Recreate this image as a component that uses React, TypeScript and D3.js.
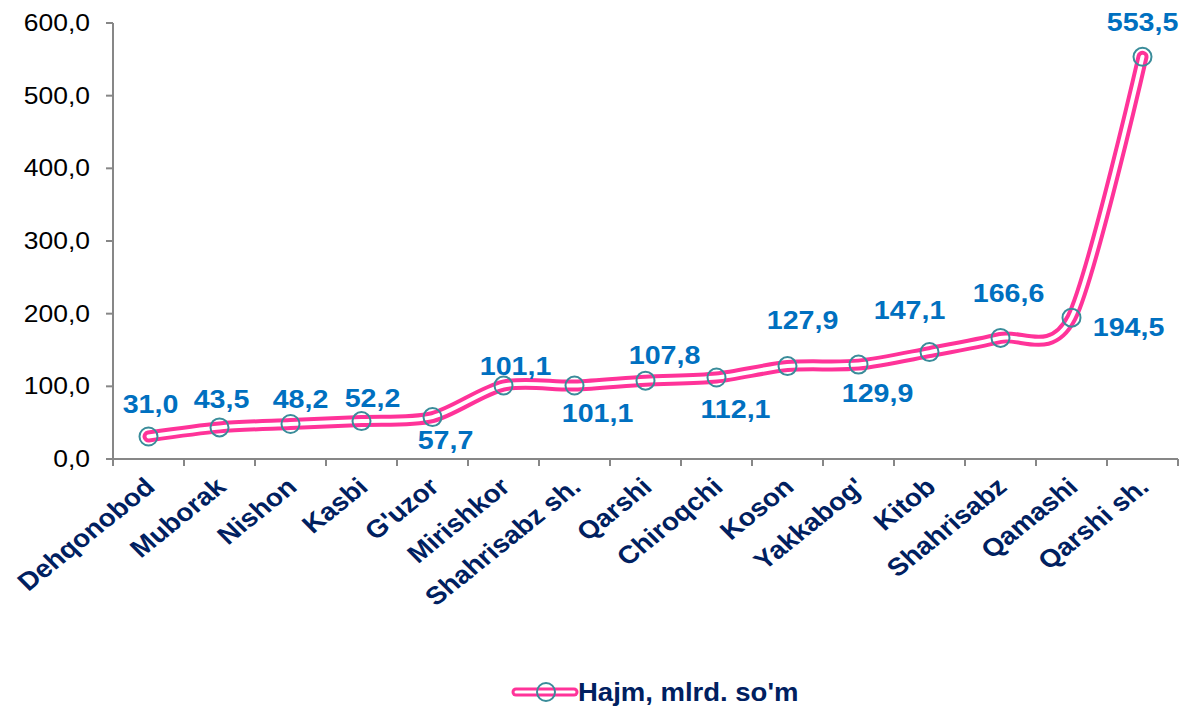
import React from 'react';
import * as d3 from 'd3';

const categories = [
  'Dehqonobod', 'Muborak', 'Nishon', 'Kasbi', "G'uzor", 'Mirishkor', 'Shahrisabz sh.',
  'Qarshi', 'Chiroqchi', 'Koson', "Yakkabog'", 'Kitob', 'Shahrisabz', 'Qamashi', 'Qarshi sh.'
];
const values = [31.0, 43.5, 48.2, 52.2, 57.7, 101.1, 101.1, 107.8, 112.1, 127.9, 129.9, 147.1, 166.6, 194.5, 553.5];
const yTicks = [0, 100, 200, 300, 400, 500, 600];
const seriesName = "Hajm, mlrd. so'm";

// where each data label sits relative to its point (Excel placed them by hand)
const labelOffsets = [
  [2, -33], [2, -28], [10, -25], [11, -23], [13, 23], [12, -20], [23, 27],
  [19, -26], [19, 31], [15, -46], [19, 28], [-20, -42], [8, -45], [57, 9], [0, -35]
];

const W = 1186, H = 711;
const left = 113, right = 1178, top = 23, bottom = 459;
const font = '"Liberation Sans", Arial, sans-serif';
const pink = '#FF3399';
const teal = '#3A8C9A';
const navy = '#002060';
const blue = '#0070C0';
const axisGray = '#878787';

const fmt = (v: number) => v.toFixed(1).replace('.', ',');

export default function App() {
  const x = d3.scaleBand().domain(categories).range([left, right]);
  const y = d3.scaleLinear().domain([0, 600]).range([bottom, top]);
  const cx = (c: string) => (x(c) as number) + x.bandwidth() / 2;

  const pts: [number, number][] = categories.map((c, i) => [cx(c), y(values[i])]);
  const line = d3.line().curve(d3.curveCardinal.tension(0.15));
  const path = line(pts) || '';

  return (
    <svg width={W} height={H} style={{ position: 'absolute', left: 0, top: 0, background: '#fff' }}
      fontFamily={font}>
      {/* y axis */}
      <line x1={left} x2={left} y1={top} y2={bottom} stroke={axisGray} strokeWidth={2} />
      {yTicks.map((t) => (
        <g key={`yt-${t}`}>
          <line x1={left - 7} x2={left} y1={y(t)} y2={y(t)} stroke={axisGray} strokeWidth={2} />
          <text transform={`translate(90,${y(t)}) scale(1.15,1)`} textAnchor="end"
            dominantBaseline="central" fontSize={23} fill="#000">{fmt(t)}</text>
        </g>
      ))}
      {/* x axis */}
      <line x1={left} x2={right} y1={bottom} y2={bottom} stroke={axisGray} strokeWidth={2} />
      {categories.concat(['']).map((c, i) => {
        const tx = left + i * x.bandwidth();
        return <line key={`xt-${i}`} x1={tx} x2={tx} y1={bottom} y2={bottom + 7} stroke={axisGray} strokeWidth={2} />;
      })}
      {categories.map((c) => (
        <text key={`xl-${c}`} transform={`translate(${cx(c) + 8},${bottom + 30}) scale(1.12,1) rotate(-42)`}
          textAnchor="end" fontSize={25} fontWeight="bold" fill={navy}>{c}</text>
      ))}
      {/* series */}
      <path d={path} fill="none" stroke={pink} strokeWidth={12} strokeLinecap="round" strokeLinejoin="round" />
      <path d={path} fill="none" stroke="#fff" strokeWidth={4} strokeLinecap="round" strokeLinejoin="round" />
      {pts.map(([px, py], i) => (
        <circle key={`m-${i}`} cx={px} cy={py} r={9} fill="none" stroke={teal} strokeWidth={2} />
      ))}
      {pts.map(([px, py], i) => (
        <text key={`dl-${i}`} transform={`translate(${px + labelOffsets[i][0]},${py + labelOffsets[i][1]}) scale(1.1,1)`}
          textAnchor="middle" dominantBaseline="central" fontSize={26} fontWeight="bold" fill={blue}>
          {fmt(values[i])}
        </text>
      ))}
      {/* legend */}
      <g>
        <line x1={516} x2={574} y1={692} y2={692} stroke={pink} strokeWidth={9} strokeLinecap="round" />
        <line x1={516} x2={574} y1={692} y2={692} stroke="#fff" strokeWidth={3} strokeLinecap="round" />
        <circle cx={546} cy={692} r={9} fill="none" stroke={teal} strokeWidth={2} />
        <text transform="translate(578,701) scale(1.1,1)" fontSize={25} fontWeight="bold" fill={navy}>{seriesName}</text>
      </g>
    </svg>
  );
}
